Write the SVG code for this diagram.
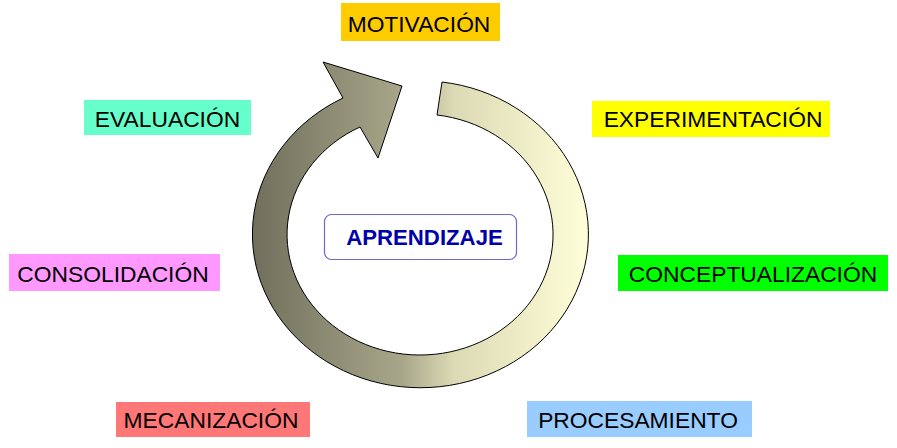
<svg xmlns="http://www.w3.org/2000/svg" width="897" height="448" viewBox="0 0 897 448">
<defs>
<linearGradient id="ring" gradientUnits="userSpaceOnUse" x1="252" y1="0" x2="588" y2="0">
<stop offset="0" stop-color="#6f6f5c"/>
<stop offset="0.45" stop-color="#a9a78a"/>
<stop offset="0.6" stop-color="#dcdab4"/>
<stop offset="1" stop-color="#fefed8"/>
</linearGradient>
</defs>
<style>
.lbl{font-family:"Liberation Sans",Arial,sans-serif;font-size:22.8px;fill:#000;text-anchor:middle}
.ctr{font-family:"Liberation Sans",Arial,sans-serif;font-size:22.2px;font-weight:bold;fill:#0000aa;text-anchor:middle}
</style>
<rect width="897" height="448" fill="#fff"/>
<g id="connectors">
<path d="M442,82 A168,153.5 0 1 1 343,98 L323,62 L402,86 L378,158 L360,127 A133,120.5 0 1 0 437,115 Z" fill="url(#ring)" stroke="#000" stroke-width="1" stroke-linejoin="miter"/>
</g>
<g id="aprendizaje">
<rect x="324.5" y="214.5" width="192" height="45" rx="7" fill="#fff" stroke="#6a6acc" stroke-width="1.2"/>
<text class="ctr" x="424.5" y="244.5">APRENDIZAJE</text>
</g>
<g id="motivacion">
<rect x="341" y="3" width="159" height="38" fill="#ffcc00"/>
<text class="lbl" x="419" y="32">MOTIVACIÓN</text>
</g>
<g id="evaluacion">
<rect x="84" y="100" width="167" height="35" fill="#66ffcc"/>
<text class="lbl" x="167.5" y="126.5">EVALUACIÓN</text>
</g>
<g id="experimentacion">
<rect x="592" y="101" width="238" height="36" fill="#ffff00"/>
<text class="lbl" x="713" y="127">EXPERIMENTACIÓN</text>
</g>
<g id="conceptualizacion">
<rect x="618" y="255" width="270" height="36" fill="#00ff00"/>
<text class="lbl" x="753" y="281.5">CONCEPTUALIZACIÓN</text>
</g>
<g id="consolidacion">
<rect x="9" y="254" width="211" height="37" fill="#ff99ff"/>
<text class="lbl" x="113" y="281.5">CONSOLIDACIÓN</text>
</g>
<g id="mecanizacion">
<rect x="116" y="402" width="194" height="35" fill="#ff7777"/>
<text class="lbl" x="211" y="428">MECANIZACIÓN</text>
</g>
<g id="procesamiento">
<rect x="527" y="401" width="225" height="36" fill="#99ccff"/>
<text class="lbl" x="638" y="428">PROCESAMIENTO</text>
</g>
</svg>
